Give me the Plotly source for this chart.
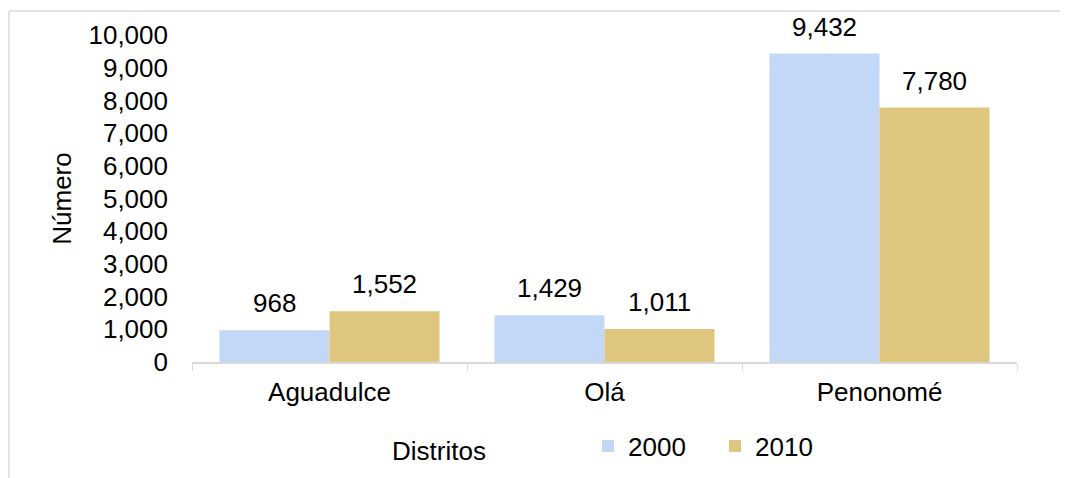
import plotly.graph_objects as go

categories = ["Aguadulce", "Olá", "Penonomé"]
years = ["2000", "2010"]
values_2000 = [968, 1429, 9432]
values_2010 = [1552, 1011, 7780]
y_ticks = list(range(0, 10001, 1000))

FONT = "Liberation Sans, Arial, sans-serif"
FS = 26
colors = {"2000": "#c3d8f6", "2010": "#dfc67f"}

# layout geometry (page offset of 8px from body margin)
OFF = 8
L, T, PW, PH = 184, 27, 825, 327
W, H = 1068, 478
PLOT_BOTTOM = OFF + T + PH


def px(xpage):
    return (xpage - OFF - L) / PW


def py(ypage):
    return (PLOT_BOTTOM - ypage) / PH


fig = go.Figure()
for yr, vals in zip(years, [values_2000, values_2010]):
    fig.add_trace(go.Bar(
        x=categories, y=vals, name=yr,
        marker=dict(color=colors[yr], line=dict(width=0)),
    ))

# data labels
for i, cat in enumerate(categories):
    for shift, vals in zip([-55, 55], [values_2000, values_2010]):
        fig.add_annotation(
            x=cat, y=vals[i], text=f"{vals[i]:,}", showarrow=False,
            xshift=shift, yshift=10, yanchor="bottom",
            font=dict(size=FS, color="#000000", family=FONT),
        )

# x axis title (off-centre as in the original)
fig.add_annotation(
    xref="paper", yref="paper", x=px(439), y=py(451),
    text="Distritos", showarrow=False, xanchor="center", yanchor="middle",
    font=dict(size=FS, color="#000000", family=FONT),
)

# outer frame: only top and left edges are visible in the original
frame_line = dict(color="#d9d9d9", width=1.5)
fig.add_shape(type="line", xref="paper", yref="paper",
              x0=px(9), x1=px(1200), y0=py(11), y1=py(11), line=frame_line, layer="below")
fig.add_shape(type="line", xref="paper", yref="paper",
              x0=px(9), x1=px(9), y0=py(11), y1=py(600), line=frame_line, layer="below")

fig.update_layout(
    width=W, height=H,
    margin=dict(l=L, r=W - L - PW, t=T, b=H - T - PH),
    paper_bgcolor="white", plot_bgcolor="white",
    barmode="group", bargap=0.2, bargroupgap=0,
    font=dict(family=FONT, size=FS, color="#000000"),
    showlegend=True,
    legend=dict(
        orientation="h", x=px(588), y=py(446),
        xanchor="left", yanchor="middle",
        font=dict(size=FS, family=FONT), entrywidth=82, traceorder="normal",
        bgcolor="rgba(0,0,0,0)",
    ),
)
fig.update_xaxes(
    showline=True, linecolor="#d9d9d9", linewidth=1.5,
    ticks="outside", tickson="boundaries", ticklen=7, tickcolor="#d9d9d9",
    ticklabelstandoff=6,
    tickfont=dict(size=FS, family=FONT), showgrid=False,
)
fig.update_yaxes(
    range=[0, 10000], tickvals=y_ticks, tickformat=",d",
    showline=False, showgrid=False, zeroline=False, ticks="",
    ticklabelstandoff=23,
    tickfont=dict(size=FS, family=FONT),
    title=dict(text="Número", font=dict(size=FS, family=FONT), standoff=9),
)

fig.write_html("out.html")
